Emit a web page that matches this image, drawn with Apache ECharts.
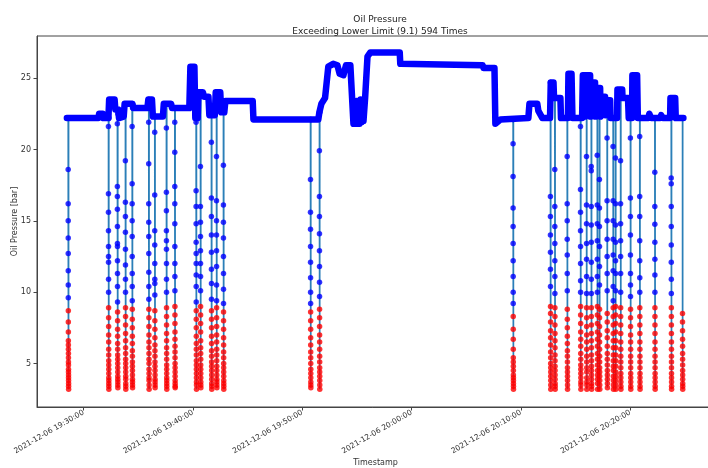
<!DOCTYPE html>
<html><head><meta charset="utf-8">
<script src="https://cdn.jsdelivr.net/npm/echarts@6/dist/echarts.min.js"></script>
<style>html,body{margin:0;padding:0;background:#fff}#c{width:708px;height:468px}</style>
</head><body><div id="c"></div>
<script>
const dateLabel = '2021-12-06';
const lowerLimit = 9.1;
const exceedCount = 594;
const xTickTimes = ['19:30:00', '19:40:00', '19:50:00', '20:00:00', '20:10:00', '20:20:00'];
const yTicks = [5, 10, 15, 20, 25];
const xRange = ['19:25:44', '20:27:40'];
const yRange = [1.95, 27.95];

const plateauTimes = [
 '19:28:28','19:31:21','19:31:25','19:31:45','19:31:48','19:32:16','19:32:20','19:32:50','19:32:54','19:33:10',
 '19:33:14','19:33:40','19:33:45','19:34:28','19:34:33','19:35:50','19:35:55','19:36:15','19:36:20','19:37:15',
 '19:37:20','19:38:00','19:38:05','19:39:40','19:39:46','19:40:08','19:40:13','19:40:26','19:40:30','19:40:55',
 '19:41:00','19:41:25','19:41:30','19:42:00','19:42:05','19:42:30','19:42:35','19:42:52','19:42:58','19:45:28',
 '19:45:32','19:51:28','19:51:34','19:51:45','19:52:05','19:52:23','19:52:50','19:53:13','19:53:25','19:53:46',
 '19:54:00','19:54:24','19:54:41','19:54:48','19:54:52','19:54:58','19:55:03','19:55:09','19:55:14','19:55:20',
 '19:55:25','19:55:31','19:55:36','19:55:45','19:55:58','19:56:14','19:58:55','19:58:58','20:06:30','20:06:35',
 '20:07:35','20:07:40','20:08:08','20:10:41','20:10:47','20:11:30','20:11:36','20:11:58','20:12:40','20:12:44',
 '20:12:59','20:13:02','20:13:37','20:13:40','20:14:18','20:14:21','20:14:38','20:14:43','20:15:36','20:15:40',
 '20:15:50','20:15:52','20:15:56','20:16:20','20:16:22','20:16:25','20:16:47','20:16:49','20:16:52','20:17:15',
 '20:17:17','20:17:20','20:17:42','20:17:44','20:17:47','20:18:10','20:18:12','20:18:48','20:18:50','20:19:16',
 '20:19:18','20:19:48','20:19:52','20:20:10','20:20:12','20:20:38','20:20:42','20:21:40','20:21:45','20:21:55',
 '20:22:45','20:22:50','20:23:00','20:23:39','20:23:41','20:24:07','20:24:10','20:24:52'
];
const plateauValues = [
 22.2,22.2,22.5,22.5,22.2,22.2,23.5,23.5,22.8,22.8,
 22.2,22.3,23.2,23.2,22.9,22.9,23.5,23.5,22.3,22.3,
 23.2,23.2,22.9,22.9,25.8,25.8,22.2,22.2,24.0,24.0,
 23.7,23.7,22.4,22.4,24.0,24.0,22.6,22.6,23.4,23.4,
 22.1,22.1,22.6,23.2,23.6,25.8,26.0,25.9,25.3,25.2,
 25.9,25.9,21.8,23.0,21.8,23.4,21.8,22.8,21.8,23.5,
 21.9,22.9,22.0,23.6,26.5,26.8,26.8,26.0,25.9,25.7,
 25.7,21.8,22.1,22.2,23.2,23.2,22.7,22.2,22.2,24.7,
 24.7,23.6,23.6,22.2,22.2,25.3,25.3,22.2,22.2,25.2,
 25.2,22.3,25.2,25.2,22.3,24.7,24.7,22.3,24.3,24.3,
 22.3,23.7,23.7,22.4,23.45,23.45,22.2,22.2,24.2,24.2,
 23.6,23.6,22.2,22.2,25.2,25.2,22.2,22.2,22.5,22.2,
 22.2,22.4,22.2,22.2,23.6,23.6,22.2,22.2
];

const dropTimes = [
 '19:28:35','19:32:16','19:33:05','19:33:49','19:34:26','19:35:57','19:36:30','19:37:34','19:38:20','19:40:17',
 '19:40:41','19:41:41','19:42:09','19:42:47','19:50:45','19:51:34','20:09:17','20:12:42','20:13:06','20:14:14',
 '20:15:27','20:16:00','20:16:26','20:16:59','20:17:11','20:17:53','20:18:26','20:18:39','20:19:07','20:20:01',
 '20:20:52','20:22:15','20:23:45','20:24:47'
];
const dropValues = [
 [22.2,18.6,16.2,15.0,13.8,12.7,11.5,10.5,9.6,8.7,7.9,7.2,6.6,6.3,6.0,5.7,5.4,5.1,4.9,4.6,4.4,4.2,4.0,3.8,3.6,3.4,3.2,22.2],
 [22.2,21.6,16.9,15.6,14.3,13.2,12.5,12.1,10.9,10.0,8.9,8.2,7.6,7.0,6.5,6.0,5.6,5.2,4.9,4.6,4.3,4.0,3.8,3.6,3.4,3.2,22.2],
 [22.8,21.8,17.4,16.7,15.8,14.6,13.4,13.2,12.2,11.3,10.4,9.3,8.6,8.0,7.4,6.9,6.4,6.0,5.6,5.3,5.0,4.7,4.4,4.1,3.9,3.7,3.5,3.3,22.5],
 [23.2,19.2,16.3,15.3,14.2,13.0,11.9,10.9,10.0,8.9,8.3,7.7,7.1,6.6,6.1,5.7,5.3,5.0,4.7,4.4,4.1,3.9,3.6,3.4,3.2,23.2],
 [23.2,21.6,17.6,16.2,15.0,13.9,12.5,11.3,10.4,9.4,8.8,8.1,7.5,6.9,6.4,5.9,5.5,5.1,4.8,4.5,4.2,3.9,3.7,3.5,3.3,22.9],
 [23.5,21.9,19.0,16.2,14.9,13.9,12.7,11.4,10.4,9.5,8.8,8.2,7.6,7.0,6.5,6.1,5.7,5.3,5.0,4.6,4.3,4.0,3.8,3.5,3.2,23.5],
 [22.3,21.2,16.8,14.3,13.3,12.0,10.9,10.6,9.8,8.7,8.0,7.4,6.8,6.3,5.9,5.5,5.1,4.8,4.5,4.2,3.9,3.7,3.5,3.3,22.3],
 [23.2,21.5,17.0,15.7,14.3,13.6,13.0,12.0,10.9,10.0,8.9,8.3,7.7,7.1,6.6,6.1,5.7,5.3,4.9,4.6,4.3,4.0,3.8,3.6,3.4,3.2,23.2],
 [22.9,21.9,19.8,17.4,16.2,14.8,13.2,12.0,11.1,10.1,9.0,8.4,7.8,7.2,6.7,6.2,5.8,5.4,5.0,4.7,4.4,4.1,3.8,3.6,3.4,3.3,22.9],
 [22.2,21.9,17.1,16.0,14.8,13.5,12.7,12.0,11.2,10.4,9.3,8.7,8.1,7.5,6.9,6.4,6.0,5.6,5.2,4.9,4.6,4.3,4.0,3.7,3.5,3.2,22.2],
 [24.0,18.8,16.0,14.9,13.9,12.9,12.0,11.1,10.1,9.0,8.4,7.8,7.2,6.6,6.1,5.7,5.3,4.9,4.6,4.3,4.0,3.7,3.5,3.3,24.0],
 [22.4,20.5,16.6,15.3,14.0,12.8,11.6,10.6,9.5,8.7,8.1,7.5,6.9,6.4,5.9,5.5,5.1,4.8,4.5,4.2,3.9,3.6,3.4,3.2,22.4],
 [24.0,19.5,16.4,15.0,14.0,12.9,11.8,10.5,9.4,8.9,8.2,7.6,7.0,6.5,6.0,5.6,5.2,4.8,4.5,4.2,3.9,3.7,3.5,3.3,24.0],
 [22.6,18.9,16.1,14.9,13.8,12.5,11.3,10.2,9.2,8.6,8.0,7.4,6.8,6.3,5.8,5.4,5.0,4.7,4.4,4.1,3.8,3.6,3.4,3.2,23.4],
 [22.1,17.9,15.6,14.4,13.2,12.1,11.0,10.0,9.2,8.6,8.0,7.4,6.8,6.3,5.8,5.4,5.0,4.6,4.3,4.0,3.7,3.5,3.3,22.1],
 [22.6,19.9,16.7,15.3,14.1,12.9,11.8,10.7,9.7,8.8,8.2,7.6,7.0,6.5,6.0,5.5,5.1,4.7,4.4,4.1,3.8,3.5,3.2,22.6],
 [22.1,20.4,18.1,15.9,14.6,13.4,12.2,11.1,10.0,9.2,8.3,7.4,6.7,6.0,5.4,5.1,4.8,4.5,4.2,4.0,3.8,3.6,3.4,3.2,22.1],
 [24.7,16.7,15.3,14.0,12.8,11.6,10.4,9.0,8.5,7.9,7.3,6.8,6.3,5.8,5.4,5.0,4.7,4.4,4.1,3.8,3.5,3.2,24.7],
 [23.6,18.6,16.0,14.6,13.4,12.2,11.1,9.9,8.9,8.3,7.7,7.1,6.6,6.1,5.6,5.2,4.8,4.5,4.2,3.9,3.6,3.4,3.2,23.6],
 [22.2,19.5,16.2,15.0,13.7,12.6,11.3,10.1,8.8,8.1,7.5,6.9,6.4,5.9,5.5,5.1,4.7,4.4,4.1,3.8,3.5,3.2,22.2],
 [22.2,21.6,17.2,15.6,14.3,13.2,12.0,10.8,10.0,9.0,8.4,7.8,7.2,6.7,6.2,5.7,5.3,4.9,4.6,4.3,4.0,3.7,3.5,3.2,22.2],
 [25.2,19.5,16.1,14.8,13.4,12.3,11.1,9.9,8.9,8.2,7.6,7.0,6.5,6.0,5.5,5.1,4.7,4.4,4.0,3.7,3.5,3.2,25.2],
 [24.7,18.8,18.5,16.0,14.7,13.5,12.1,10.9,9.9,8.9,8.3,7.7,7.1,6.6,6.1,5.6,5.2,4.8,4.5,4.2,3.9,3.6,3.4,3.2,24.7],
 [24.3,19.6,16.1,14.8,13.6,12.3,11.1,10.0,9.0,8.4,7.8,7.2,6.7,6.2,5.7,5.3,4.9,4.5,4.2,3.9,3.6,3.2,24.3],
 [24.3,17.9,15.9,14.6,13.2,11.8,10.5,8.8,8.2,7.6,7.0,6.5,6.0,5.5,5.1,4.7,4.4,4.1,3.8,3.5,3.2,23.7],
 [23.45,20.8,16.4,15.0,13.7,12.5,11.3,10.1,8.5,7.9,7.3,6.8,6.2,5.7,5.3,4.9,4.5,4.2,3.9,3.6,3.3,23.45],
 [22.2,20.2,16.4,15.0,13.7,12.6,11.5,10.4,9.4,8.9,8.3,7.7,7.1,6.6,6.1,5.6,5.2,4.8,4.5,4.1,3.8,3.5,3.2,22.2],
 [22.2,19.4,16.2,14.7,13.5,12.2,11.3,10.1,9.0,8.4,7.8,7.2,6.6,6.1,5.6,5.2,4.8,4.4,4.1,3.8,3.5,3.2,22.2],
 [24.2,19.2,16.2,14.8,13.6,12.5,11.3,10.0,8.9,8.3,7.7,7.1,6.5,6.0,5.5,5.1,4.7,4.3,4.0,3.7,3.4,3.2,23.6],
 [22.2,20.8,16.6,15.3,14.0,12.6,11.3,10.5,9.7,8.8,8.2,7.6,7.0,6.5,6.0,5.5,5.1,4.7,4.3,4.0,3.7,3.4,3.2,22.2],
 [22.2,20.9,16.7,15.3,13.6,12.2,11.0,10.0,8.9,8.3,7.7,7.1,6.5,6.0,5.5,5.1,4.7,4.3,4.0,3.7,3.4,3.2,22.2],
 [22.2,18.4,16.0,14.75,13.5,12.3,11.2,10.0,8.9,8.3,7.7,7.1,6.5,6.0,5.5,5.1,4.7,4.3,4.0,3.7,3.4,3.2,22.2],
 [23.6,18.0,17.6,16.0,14.6,13.3,12.1,10.9,9.9,8.9,8.3,7.7,7.1,6.5,6.0,5.5,5.1,4.7,4.3,4.0,3.7,3.4,3.2,23.6],
 [22.2,8.5,7.9,7.3,6.7,6.2,5.7,5.3,4.9,4.5,4.2,3.9,3.6,3.4,3.2,22.2]
];

const BASE = 19 * 3600 + 30 * 60;
const SAMPLE_STEP = 0.1; // seconds between samples inside a drop
function toSec(s) { const p = s.split(':').map(Number); return p[0] * 3600 + p[1] * 60 + p[2] - BASE; }
function pad(n) { return (n < 10 ? '0' : '') + n; }
function fmt(sec) {
  const t = Math.round(sec) + BASE;
  const h = Math.floor(t / 3600), m = Math.floor((t % 3600) / 60), s = t % 60;
  return dateLabel + ' ' + pad(h) + ':' + pad(m) + ':' + pad(s);
}

const plateauData = plateauTimes.map((t, i) => [toSec(t), plateauValues[i]]);
const lineData = [], bluePts = [], redPts = [];
dropTimes.forEach((t, k) => {
  const t0 = toSec(t);
  dropValues[k].forEach((v, i) => {
    const p = [t0 + i * SAMPLE_STEP, v];
    lineData.push(p);
    (v < lowerLimit ? redPts : bluePts).push(p);
  });
  lineData.push([t0, '-']);
});
const xTickSecs = xTickTimes.map(toSec);

const FONT = 'DejaVu Sans';
const chart = echarts.init(document.getElementById('c'), null, { renderer: 'canvas' });
chart.setOption({
  animation: false,
  backgroundColor: '#fff',
  title: {
    text: 'Oil Pressure\nExceeding Lower Limit (' + lowerLimit + ') ' + exceedCount + ' Times',
    left: 375, top: 9, textAlign: 'center',
    textStyle: { fontSize: 9, fontWeight: 'normal', color: '#222', lineHeight: 12, fontFamily: FONT }
  },
  grid: { left: 37, top: 36, right: -6, bottom: 61, show: true, borderColor: '#444', borderWidth: 1,
          containLabel: false, outerBoundsMode: 'none' },
  xAxis: {
    type: 'value', min: toSec(xRange[0]), max: toSec(xRange[1]),
    axisLine: { show: true, onZero: false, lineStyle: { color: '#444', width: 1 } },
    axisTick: { show: true, customValues: xTickSecs, length: 3.5, lineStyle: { color: '#444' } },
    axisLabel: { customValues: xTickSecs, rotate: 30, formatter: fmt, fontSize: 7.5, color: '#333', margin: 5, fontFamily: FONT },
    splitLine: { show: false },
    name: 'Timestamp', nameLocation: 'middle', nameGap: 52, nameMoveOverlap: false,
    nameTextStyle: { fontSize: 8, color: '#333', fontFamily: FONT }
  },
  yAxis: {
    type: 'value', min: yRange[0], max: yRange[1],
    axisLine: { show: true, onZero: false, lineStyle: { color: '#444', width: 1 } },
    axisTick: { show: true, customValues: yTicks, length: 3.5, lineStyle: { color: '#444' } },
    axisLabel: { customValues: yTicks, fontSize: 8, color: '#333', margin: 6, fontFamily: FONT },
    splitLine: { show: false },
    name: 'Oil Pressure [bar]', nameLocation: 'middle', nameGap: 18, nameMoveOverlap: false,
    nameTextStyle: { fontSize: 8, color: '#333', fontFamily: FONT }
  },
  series: [
    { type: 'line', data: lineData, showSymbol: false, connectNulls: false, z: 2,
      lineStyle: { color: '#2b7fb8', width: 1.5 } },
    { type: 'line', data: plateauData, showSymbol: false, z: 3,
      lineStyle: { color: '#0000ff', width: 6.5, cap: 'round', join: 'round' } },
    { type: 'scatter', data: bluePts, symbolSize: 5.5, z: 4, itemStyle: { color: '#0000ff' } },
    { type: 'scatter', data: redPts, symbolSize: 5.5, z: 5, itemStyle: { color: '#ff0000' } }
  ]
});
</script></body></html>
